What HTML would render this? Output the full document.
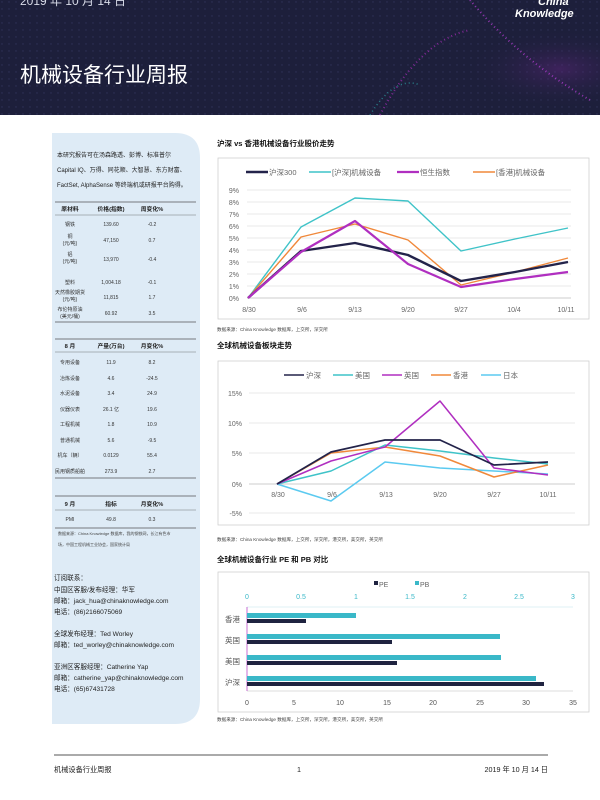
<!DOCTYPE html>
<html><head><meta charset="utf-8"><style>
body{margin:0;width:600px;height:800px;background:#fff;overflow:hidden}
svg{display:block}
text{font-family:"Liberation Sans","Noto Sans CJK SC",sans-serif}
</style></head><body>
<svg width="600" height="800" viewBox="0 0 600 800">
<defs>
<radialGradient id="g1" cx="0.85" cy="0.6" r="0.35"><stop offset="0" stop-color="#7a2a9a" stop-opacity="0.35"/><stop offset="1" stop-color="#1c1f3a" stop-opacity="0"/></radialGradient>
<pattern id="dots" width="7" height="7" patternUnits="userSpaceOnUse"><circle cx="2" cy="2" r="0.7" fill="#5a5fa0" opacity="0.6"/></pattern>
</defs>
<rect x="0" y="0" width="600" height="115" fill="#1d1f3b"/>
<rect x="0" y="0" width="600" height="115" fill="url(#dots)" opacity="0.5"/>
<rect x="330" y="0" width="270" height="115" fill="url(#g1)"/>
<path d="M380 115 Q420 40 470 30" stroke="#c030d0" stroke-width="2" fill="none" stroke-dasharray="1 3" opacity="0.6"/>
<path d="M470 0 Q520 60 590 100" stroke="#c040e0" stroke-width="2" fill="none" stroke-dasharray="1 3" opacity="0.7"/>
<path d="M370 115 Q395 75 420 85" stroke="#30c0c0" stroke-width="1.5" fill="none" stroke-dasharray="1 3" opacity="0.6"/>
<text x="20" y="5" fill="#d8dbe8" font-size="12">2019 年 10 月 14 日</text>
<text x="20" y="82" fill="#fff" font-size="21">机械设备行业周报</text>
<text x="538" y="5" fill="#fff" font-size="11" font-style="italic" font-weight="bold">China</text>
<text x="515" y="17" fill="#fff" font-size="11" font-style="italic" font-weight="bold">Knowledge</text>

<path d="M52 133 H175 Q200 133 200 158 V699 Q200 724 175 724 H52 Z" fill="#deebf6"/>
<g font-size="6" fill="#222">
<text x="57" y="157">本研究报告可在汤森路透、彭博、标准普尔</text>
<text x="57" y="172">Capital IQ、万得、同花顺、大智慧、东方财富、</text>
<text x="57" y="187">FactSet, AlphaSense 等终端机或研报平台购得。</text>
</g>
<g stroke="#555" stroke-width="0.8">
<line x1="55" y1="202" x2="196" y2="202"/><line x1="55" y1="215" x2="196" y2="215" stroke-width="0.4"/><line x1="55" y1="322" x2="196" y2="322"/>
<line x1="55" y1="339" x2="196" y2="339"/><line x1="55" y1="352" x2="196" y2="352" stroke-width="0.4"/><line x1="55" y1="478" x2="196" y2="478"/>
<line x1="55" y1="496" x2="196" y2="496"/><line x1="55" y1="510" x2="196" y2="510" stroke-width="0.4"/><line x1="55" y1="528" x2="196" y2="528"/>
</g>
<g font-size="5.8" font-weight="bold" fill="#222" text-anchor="middle">
<text x="70" y="211">原材料</text><text x="111" y="211">价格(指数)</text><text x="152" y="211">周变化%</text>
<text x="70" y="348">8 月</text><text x="111" y="348">产量(万台)</text><text x="152" y="348">月变化%</text>
<text x="70" y="506">9 月</text><text x="111" y="506">指标</text><text x="152" y="506">月变化%</text>
</g>
<g font-size="5" fill="#333" text-anchor="middle">
<text x="70" y="226">钢铁</text><text x="111" y="226">139.60</text><text x="152" y="226">-0.2</text>
<text x="70" y="238">铜</text><text x="70" y="245">(元/吨)</text><text x="111" y="242">47,150</text><text x="152" y="242">0.7</text>
<text x="70" y="256">铝</text><text x="70" y="263">(元/吨)</text><text x="111" y="261">13,970</text><text x="152" y="261">-0.4</text>
<text x="70" y="284">塑料</text><text x="111" y="284">1,004.18</text><text x="152" y="284">-0.1</text>
<text x="70" y="294">天然橡胶期货</text><text x="70" y="301">(元/吨)</text><text x="111" y="299">11,815</text><text x="152" y="299">1.7</text>
<text x="70" y="311">布伦特原油</text><text x="70" y="318">(美元/桶)</text><text x="111" y="315">60.92</text><text x="152" y="315">3.5</text>
<text x="70" y="364">专用设备</text><text x="111" y="364">11.9</text><text x="152" y="364">8.2</text>
<text x="70" y="380">冶炼设备</text><text x="111" y="380">4.6</text><text x="152" y="380">-24.5</text>
<text x="70" y="395">水泥设备</text><text x="111" y="395">3.4</text><text x="152" y="395">24.9</text>
<text x="70" y="411">仪器仪表</text><text x="111" y="411">26.1 亿</text><text x="152" y="411">19.6</text>
<text x="70" y="426">工程机械</text><text x="111" y="426">1.8</text><text x="152" y="426">10.9</text>
<text x="70" y="442">普通机械</text><text x="111" y="442">5.6</text><text x="152" y="442">-9.5</text>
<text x="70" y="457">机车（辆）</text><text x="111" y="457">0.0129</text><text x="152" y="457">55.4</text>
<text x="70" y="473">民用钢质船舶</text><text x="111" y="473">273.9</text><text x="152" y="473">2.7</text>
<text x="70" y="521">PMI</text><text x="111" y="521">49.8</text><text x="152" y="521">0.3</text>
</g>
<g font-size="4" fill="#444">
<text x="58" y="535">数据来源：China Knowledge 数据库，我的钢铁网，长江有色市</text>
<text x="58" y="546">场，中国工程机械工业协会，国家统计局</text>
</g>
<g font-size="6.6" fill="#222">
<text x="54" y="580">订阅联系：</text>
<text x="54" y="592">中国区客服/发布经理：华军</text>
<text x="54" y="603">邮箱：jack_hua@chinaknowledge.com</text>
<text x="54" y="614">电话：(86)2166075069</text>
<text x="54" y="636">全球发布经理：Ted Worley</text>
<text x="54" y="647">邮箱：ted_worley@chinaknowledge.com</text>
<text x="54" y="669">亚洲区客服经理：Catherine Yap</text>
<text x="54" y="680">邮箱：catherine_yap@chinaknowledge.com</text>
<text x="54" y="691">电话：(65)67431728</text>
</g>

<text x="217" y="146" font-size="7.5" font-weight="bold" fill="#111">沪深 vs 香港机械设备行业股价走势</text>
<rect x="218" y="158" width="371" height="161" fill="#fff" stroke="#d0d0d0" stroke-width="0.8"/>
<g stroke="#e0e0e0" stroke-width="0.7">
<line x1="247" x2="571" y1="190" y2="190"/><line x1="247" x2="571" y1="202" y2="202"/><line x1="247" x2="571" y1="214" y2="214"/><line x1="247" x2="571" y1="226" y2="226"/><line x1="247" x2="571" y1="238" y2="238"/><line x1="247" x2="571" y1="250" y2="250"/><line x1="247" x2="571" y1="262" y2="262"/><line x1="247" x2="571" y1="274" y2="274"/><line x1="247" x2="571" y1="286" y2="286"/>
</g>
<line x1="247" x2="571" y1="298" y2="298" stroke="#bbb" stroke-width="0.7"/>
<g font-size="7" fill="#666" text-anchor="end">
<text x="239" y="193">9%</text><text x="239" y="205">8%</text><text x="239" y="217">7%</text><text x="239" y="229">6%</text><text x="239" y="241">5%</text><text x="239" y="253">4%</text><text x="239" y="265">3%</text><text x="239" y="277">2%</text><text x="239" y="289">1%</text><text x="239" y="301">0%</text>
</g>
<g font-size="7" fill="#666" text-anchor="middle">
<text x="249" y="312">8/30</text><text x="302" y="312">9/6</text><text x="355" y="312">9/13</text><text x="408" y="312">9/20</text><text x="461" y="312">9/27</text><text x="514" y="312">10/4</text><text x="566" y="312">10/11</text>
</g>
<g fill="none" stroke-linejoin="round">
<polyline stroke="#3fc3c8" stroke-width="1.4" points="248,298 301,227 355,198 408,201 461,251 515,239 568,228"/>
<polyline stroke="#f0883a" stroke-width="1.4" points="248,298 301,237 355,224 408,240 461,285 515,272 568,258"/>
<polyline stroke="#23234a" stroke-width="2.4" points="248,298 301,251 355,243 408,255 461,281 515,272 568,262"/>
<polyline stroke="#b02fc0" stroke-width="2.2" points="248,298 301,252 355,221 408,264 461,287 515,279 568,272"/>
</g>
<g font-size="7.5" fill="#666">
<line x1="246" y1="172" x2="268" y2="172" stroke="#23234a" stroke-width="2.4"/><text x="269" y="175">沪深300</text>
<line x1="309" y1="172" x2="331" y2="172" stroke="#3fc3c8" stroke-width="1.4"/><text x="332" y="175">[沪深]机械设备</text>
<line x1="397" y1="172" x2="419" y2="172" stroke="#b02fc0" stroke-width="2.2"/><text x="420" y="175">恒生指数</text>
<line x1="473" y1="172" x2="495" y2="172" stroke="#f0883a" stroke-width="1.4"/><text x="496" y="175">[香港]机械设备</text>
</g>
<text x="217" y="331" font-size="4.6" fill="#444">数据来源：China Knowledge 数据库，上交所，深交所</text>

<text x="217" y="348" font-size="7.5" font-weight="bold" fill="#111">全球机械设备板块走势</text>
<rect x="218" y="361" width="371" height="164" fill="#fff" stroke="#d0d0d0" stroke-width="0.8"/>
<g stroke="#e0e0e0" stroke-width="0.7">
<line x1="249" x2="575" y1="393" y2="393"/><line x1="249" x2="575" y1="423" y2="423"/><line x1="249" x2="575" y1="453" y2="453"/><line x1="249" x2="575" y1="513" y2="513"/>
</g>
<line x1="249" x2="575" y1="484" y2="484" stroke="#bbb" stroke-width="0.7"/>
<g font-size="7" fill="#666" text-anchor="end">
<text x="242" y="396">15%</text><text x="242" y="426">10%</text><text x="242" y="456">5%</text><text x="242" y="487">0%</text><text x="242" y="516">-5%</text>
</g>
<g font-size="7" fill="#666" text-anchor="middle">
<text x="278" y="497">8/30</text><text x="332" y="497">9/6</text><text x="386" y="497">9/13</text><text x="440" y="497">9/20</text><text x="494" y="497">9/27</text><text x="548" y="497">10/11</text>
</g>
<g fill="none" stroke-width="1.5" stroke-linejoin="round">
<polyline stroke="#5bcaf0" points="277,484 331,501 385,462 440,468 494,471 548,474"/>
<polyline stroke="#f0883a" points="277,484 331,453 385,447 440,456 494,477 548,465"/>
<polyline stroke="#3fc3c8" points="277,484 331,471 385,445 440,451 494,458 548,464"/>
<polyline stroke="#b02fc0" points="277,484 331,461 385,447 440,401 494,468 548,475"/>
<polyline stroke="#23234a" stroke-width="1.7" points="277,484 331,452 385,440 440,440 494,465 548,462"/>
</g>
<g font-size="7.5" fill="#666">
<line x1="284" y1="375" x2="304" y2="375" stroke="#23234a" stroke-width="1.6"/><text x="306" y="378">沪深</text>
<line x1="333" y1="375" x2="353" y2="375" stroke="#3fc3c8" stroke-width="1.4"/><text x="355" y="378">美国</text>
<line x1="382" y1="375" x2="402" y2="375" stroke="#b02fc0" stroke-width="1.4"/><text x="404" y="378">英国</text>
<line x1="431" y1="375" x2="451" y2="375" stroke="#f0883a" stroke-width="1.4"/><text x="453" y="378">香港</text>
<line x1="481" y1="375" x2="501" y2="375" stroke="#5bcaf0" stroke-width="1.4"/><text x="503" y="378">日本</text>
</g>
<text x="217" y="541" font-size="4.6" fill="#444">数据来源：China Knowledge 数据库，上交所，深交所，港交所，美交所，英交所</text>

<text x="217" y="562" font-size="7.5" font-weight="bold" fill="#111">全球机械设备行业 PE 和 PB 对比</text>
<rect x="218" y="572" width="371" height="140" fill="#fff" stroke="#d0d0d0" stroke-width="0.8"/>
<rect x="374" y="581" width="4" height="4" fill="#1f2340"/><text x="379" y="587" font-size="7" fill="#666">PE</text>
<rect x="415" y="581" width="4" height="4" fill="#3ab8c8"/><text x="420" y="587" font-size="7" fill="#666">PB</text>
<g font-size="7" fill="#3ab8c8" text-anchor="middle">
<text x="247" y="599">0</text><text x="301" y="599">0.5</text><text x="356" y="599">1</text><text x="410" y="599">1.5</text><text x="465" y="599">2</text><text x="519" y="599">2.5</text><text x="573" y="599">3</text>
</g>
<line x1="247" x2="573" y1="607" y2="607" stroke="#bfe4ea" stroke-width="0.6"/>
<line x1="247" x2="573" y1="691" y2="691" stroke="#bbb" stroke-width="0.6"/>
<line x1="247" x2="247" y1="607" y2="691" stroke="#b02fc0" stroke-width="0.7"/>
<g fill="#3ab8c8">
<rect x="247" y="613" width="109" height="5"/><rect x="247" y="634" width="253" height="5"/><rect x="247" y="655" width="254" height="5"/><rect x="247" y="676" width="289" height="5"/>
</g>
<g fill="#1f2340">
<rect x="247" y="619" width="59" height="4"/><rect x="247" y="640" width="145" height="4"/><rect x="247" y="661" width="150" height="4"/><rect x="247" y="682" width="297" height="4"/>
</g>
<g font-size="7.5" fill="#555" text-anchor="end">
<text x="240" y="622">香港</text><text x="240" y="643">英国</text><text x="240" y="664">美国</text><text x="240" y="685">沪深</text>
</g>
<g font-size="7" fill="#555" text-anchor="middle">
<text x="247" y="705">0</text><text x="294" y="705">5</text><text x="340" y="705">10</text><text x="387" y="705">15</text><text x="433" y="705">20</text><text x="480" y="705">25</text><text x="526" y="705">30</text><text x="573" y="705">35</text>
</g>
<text x="217" y="721" font-size="4.6" fill="#444">数据来源：China Knowledge 数据库，上交所，深交所，港交所，美交所，英交所</text>

<line x1="54" x2="548" y1="755" y2="755" stroke="#555" stroke-width="1"/>
<g font-size="7.2" fill="#222">
<text x="54" y="772">机械设备行业周报</text>
<text x="297" y="772">1</text>
<text x="548" y="772" text-anchor="end">2019 年 10 月 14 日</text>
</g>
</svg>
</body></html>
